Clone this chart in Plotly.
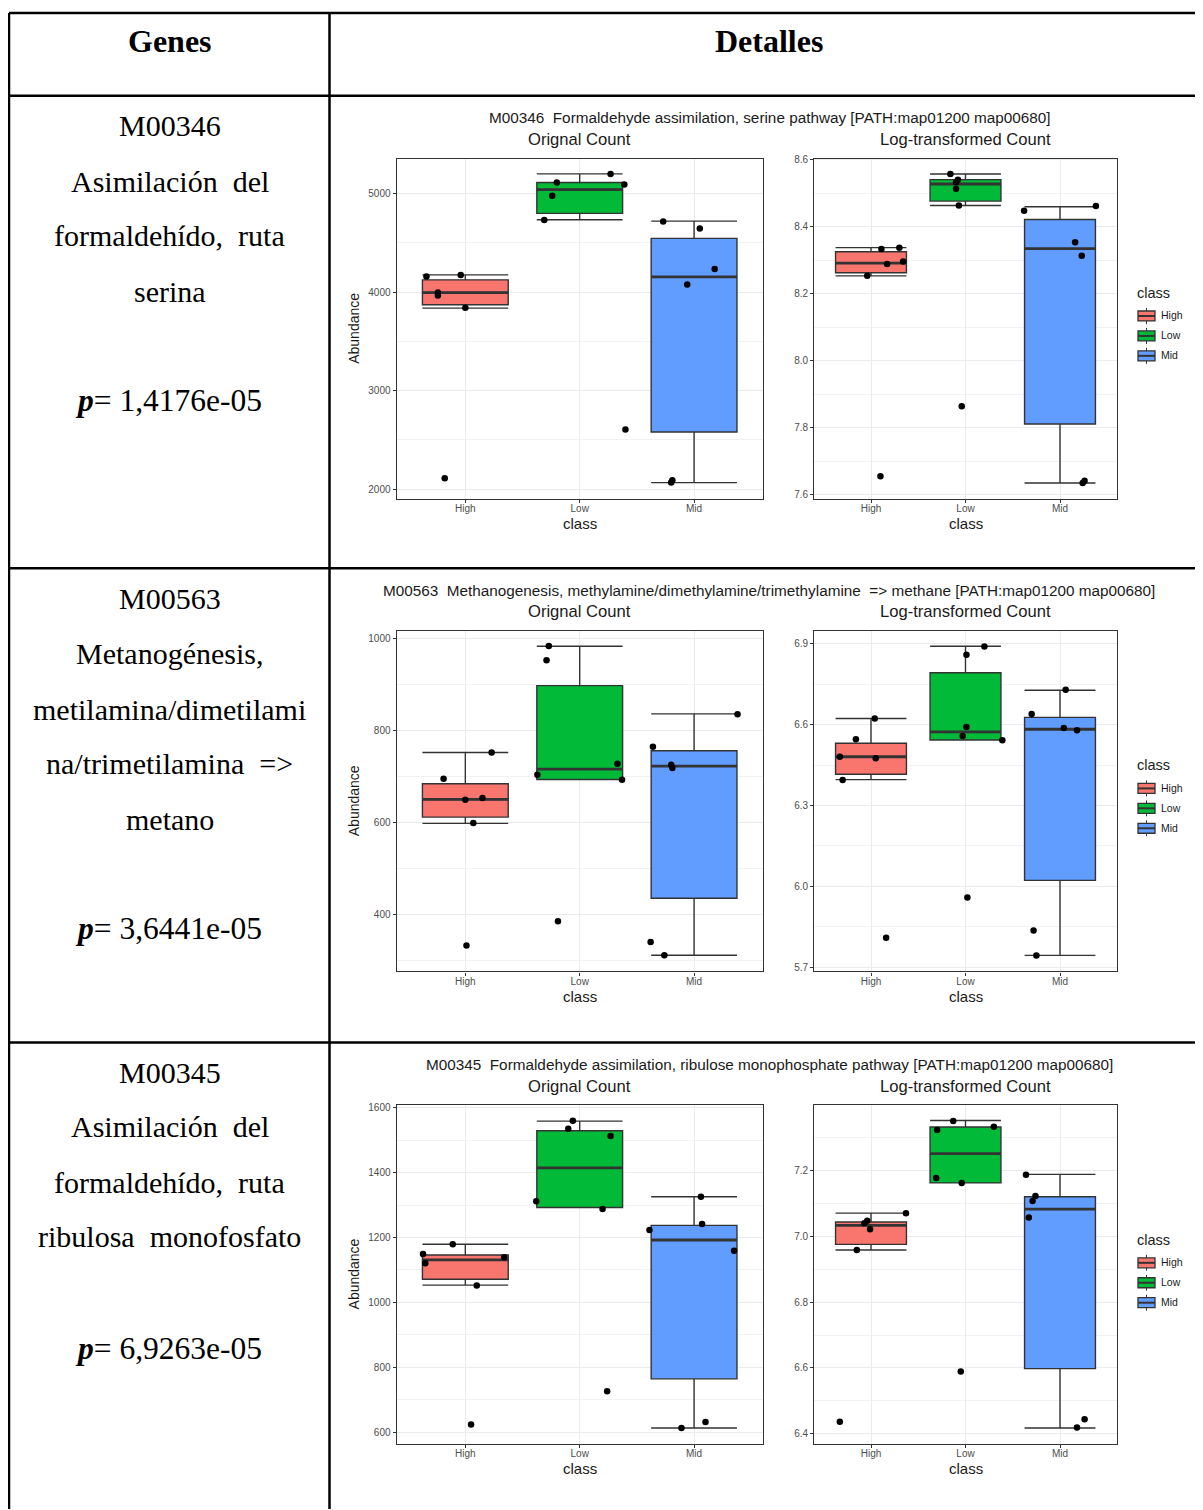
import plotly.graph_objects as go

W, H = 1203, 1510
OFF = 8                      # default page margin of the html body
FW, FH = W - OFF, H - OFF    # figure size

classes = ["High", "Low", "Mid"]
class_pos = [1, 2, 3]
fill_colors = ["#F8766D", "#00BA38", "#619CFF"]

# ---------------- M00346 : original counts ----------------
m00346_orig_q1 = [3871, 4798, 2580]
m00346_orig_med = [3995, 5040, 4154]
m00346_orig_q3 = [4124, 5111, 4545]
m00346_orig_lo = [3837, 4734, 2067]
m00346_orig_hi = [4174, 5199, 4720]
m00346_orig_pts = [[4157, 4174, 3995, 3965, 3840, 2111],
                   [4730, 5111, 4976, 5199, 5091, 2607],
                   [4717, 4646, 4235, 4076, 2091, 2067]]
m00346_orig_jit = [[-0.34, -0.04, -0.24, -0.24, 0.00, -0.18],
                   [-0.31, -0.20, -0.24, 0.27, 0.39, 0.40],
                   [-0.27, 0.05, 0.18, -0.06, -0.19, -0.20]]

# ---------------- M00346 : log counts ----------------
m00346_log_q1 = [8.262, 8.476, 7.811]
m00346_log_med = [8.291, 8.527, 8.334]
m00346_log_q3 = [8.325, 8.540, 8.421]
m00346_log_lo = [8.253, 8.463, 7.635]
m00346_log_hi = [8.337, 8.557, 8.459]
m00346_log_pts = [[8.333, 8.337, 8.288, 8.296, 8.253, 7.655],
                  [8.557, 8.540, 8.532, 8.513, 8.463, 7.864],
                  [8.447, 8.461, 8.353, 8.313, 7.642, 7.635]]
m00346_log_jit = [[0.11, 0.30, 0.17, 0.34, -0.04, 0.10],
                  [-0.16, -0.08, -0.10, -0.10, -0.07, -0.04],
                  [-0.38, 0.38, 0.16, 0.23, 0.26, 0.24]]

# ---------------- M00563 : original counts ----------------
m00563_orig_q1 = [611.8, 693.5, 435.4]
m00563_orig_med = [650.1, 715.9, 722.4]
m00563_orig_q3 = [684.1, 897.3, 755.7]
m00563_orig_lo = [598.1, 693.5, 311.8]
m00563_orig_hi = [752.0, 982.7, 835.9]
m00563_orig_pts = [[694.9, 752.0, 649.4, 653.0, 598.8, 332.8],
                   [983.4, 952.3, 703.6, 727.5, 692.8, 385.5],
                   [835.2, 764.3, 725.3, 718.1, 340.7, 311.8]]
m00563_orig_jit = [[-0.19, 0.23, 0.00, 0.15, 0.07, 0.01],
                   [-0.27, -0.29, -0.37, 0.33, 0.37, -0.19],
                   [0.38, -0.36, -0.20, -0.19, -0.38, -0.26]]

# ---------------- M00563 : log counts ----------------
m00563_log_q1 = [6.416, 6.543, 6.022]
m00563_log_med = [6.481, 6.573, 6.583]
m00563_log_q3 = [6.531, 6.793, 6.627]
m00563_log_lo = [6.396, 6.543, 5.744]
m00563_log_hi = [6.623, 6.891, 6.728]
m00563_log_pts = [[6.481, 6.546, 6.623, 6.475, 6.395, 5.809],
                  [6.890, 6.860, 6.591, 6.558, 6.542, 5.959],
                  [6.730, 6.640, 6.588, 6.579, 5.836, 5.743]]
m00563_log_jit = [[-0.33, -0.16, 0.04, 0.05, -0.30, 0.16],
                  [0.20, 0.01, 0.01, -0.03, 0.39, 0.02],
                  [0.06, -0.30, 0.04, 0.18, -0.28, -0.25]]

# ---------------- M00345 : original counts ----------------
m00345_orig_q1 = [1071.3, 1292.6, 764.0]
m00345_orig_med = [1130.7, 1414.5, 1192.2]
m00345_orig_q3 = [1146.1, 1529.3, 1237.3]
m00345_orig_lo = [1052.9, 1292.6, 612.3]
m00345_orig_hi = [1178.9, 1559.0, 1325.4]
m00345_orig_pts = [[1149.2, 1178.9, 1120.5, 1138.9, 1051.8, 623.5],
                   [1560.0, 1535.4, 1512.9, 1312.1, 1287.5, 726.0],
                   [1325.4, 1241.4, 1222.9, 1159.4, 630.7, 612.3]]
m00345_orig_jit = [[-0.37, -0.11, -0.35, 0.34, 0.10, 0.05],
                   [-0.06, -0.10, 0.27, -0.38, 0.20, 0.24],
                   [0.06, 0.07, -0.39, 0.35, 0.10, -0.11]]

# ---------------- M00345 : log counts ----------------
m00345_log_q1 = [6.976, 7.163, 6.598]
m00345_log_med = [7.034, 7.252, 7.083]
m00345_log_q3 = [7.044, 7.333, 7.121]
m00345_log_lo = [6.959, 7.163, 6.417]
m00345_log_hi = [7.071, 7.353, 7.189]
m00345_log_pts = [[7.071, 7.048, 7.040, 7.022, 6.959, 6.436],
                  [7.351, 7.324, 7.334, 7.178, 7.163, 6.589],
                  [7.188, 7.123, 7.108, 7.058, 6.444, 6.419]]
m00345_log_jit = [[0.37, -0.04, -0.07, -0.01, -0.15, -0.33],
                  [-0.13, -0.30, 0.30, -0.31, -0.04, -0.05],
                  [-0.36, -0.26, -0.29, -0.33, 0.26, 0.18]]

# ---------------- text ----------------
header_texts = ["Genes", "Detalles"]
plot_titles = [
    "M00346\u00a0 Formaldehyde assimilation, serine pathway [PATH:map01200 map00680]",
    "M00563\u00a0 Methanogenesis, methylamine/dimethylamine/trimethylamine\u00a0 => methane [PATH:map01200 map00680]",
    "M00345\u00a0 Formaldehyde assimilation, ribulose monophosphate pathway [PATH:map01200 map00680]",
]
sub_titles = ["Orignal Count", "Log-transformed Count"]
legend_title = "class"
gene_lines = [
    ["M00346", "Asimilación\u00a0 del", "formaldehído,\u00a0 ruta", "serina"],
    ["M00563", "Metanogénesis,", "metilamina/dimetilami", "na/trimetilamina\u00a0 =>", "metano"],
    ["M00345", "Asimilación\u00a0 del", "formaldehído,\u00a0 ruta", "ribulosa\u00a0 monofosfato"],
]
p_values = ["1,4176e-05", "3,6441e-05", "6,9263e-05"]

# ---------------- geometry (page pixels) ----------------
col_x = [(396.7, 762.7), (814.3, 1116.7)]
row_y = [(155.0, 496.7), (629.0, 970.7), (1105.0, 1444.3)]
row_top = [92, 566, 1042]
gene_line_y = [[125, 181, 235, 291], [599, 655, 711, 765, 821], [1075, 1129, 1185, 1240]]
p_line_y = [401, 931, 1352]
SERIF_SHIFT = -3   # glyph-centre vs text-box-centre correction
SANS_SHIFT = -2


def fx(p):
    return (p - OFF) / FW


def fy(p):
    return 1 - (p - OFF) / FH


panels = [
    dict(q1=m00346_orig_q1, med=m00346_orig_med, q3=m00346_orig_q3, lo=m00346_orig_lo, hi=m00346_orig_hi,
         pts=m00346_orig_pts, jit=m00346_orig_jit, yr=[1900, 5355], tick0=2000, dtick=1000, minor=500, fmt="d"),
    dict(q1=m00346_log_q1, med=m00346_log_med, q3=m00346_log_q3, lo=m00346_log_lo, hi=m00346_log_hi,
         pts=m00346_log_pts, jit=m00346_log_jit, yr=[7.587, 8.603], tick0=7.6, dtick=0.2, minor=0.1, fmt=".1f"),
    dict(q1=m00563_orig_q1, med=m00563_orig_med, q3=m00563_orig_q3, lo=m00563_orig_lo, hi=m00563_orig_hi,
         pts=m00563_orig_pts, jit=m00563_orig_jit, yr=[276.5, 1016], tick0=400, dtick=200, minor=100, fmt="d"),
    dict(q1=m00563_log_q1, med=m00563_log_med, q3=m00563_log_q3, lo=m00563_log_lo, hi=m00563_log_hi,
         pts=m00563_log_pts, jit=m00563_log_jit, yr=[5.684, 6.948], tick0=5.7, dtick=0.3, minor=0.15, fmt=".1f"),
    dict(q1=m00345_orig_q1, med=m00345_orig_med, q3=m00345_orig_q3, lo=m00345_orig_lo, hi=m00345_orig_hi,
         pts=m00345_orig_pts, jit=m00345_orig_jit, yr=[564.5, 1607.5], tick0=600, dtick=200, minor=100, fmt="d"),
    dict(q1=m00345_log_q1, med=m00345_log_med, q3=m00345_log_q3, lo=m00345_log_lo, hi=m00345_log_hi,
         pts=m00345_log_pts, jit=m00345_log_jit, yr=[6.370, 7.399], tick0=6.4, dtick=0.2, minor=0.1, fmt=".1f"),
]

SANS = "Liberation Sans, Arial, sans-serif"
SERIF = "Liberation Serif, Times New Roman, serif"
BOX_W = 0.75
DARK = "#333333"

fig = go.Figure()
layout_axes = {}
annotations = []
shapes = []

for k, pan in enumerate(panels):
    r, c = divmod(k, 2)
    idx = k + 1
    xa = "x" if idx == 1 else f"x{idx}"
    ya = "y" if idx == 1 else f"y{idx}"
    for i, cls in enumerate(classes):
        fig.add_trace(go.Box(
            x=[class_pos[i]], q1=[pan["q1"][i]], median=[pan["med"][i]], q3=[pan["q3"][i]],
            lowerfence=[pan["lo"][i]], upperfence=[pan["hi"][i]],
            width=BOX_W, whiskerwidth=1, boxpoints=False,
            fillcolor=fill_colors[i], line=dict(color=DARK, width=1.4),
            name=cls, xaxis=xa, yaxis=ya, showlegend=False, hoverinfo="skip"))
        fig.add_trace(go.Scatter(
            x=[class_pos[i] - BOX_W / 2, class_pos[i] + BOX_W / 2], y=[pan["med"][i]] * 2,
            mode="lines", line=dict(color=DARK, width=2.8),
            xaxis=xa, yaxis=ya, showlegend=False, hoverinfo="skip"))
    for i, cls in enumerate(classes):
        fig.add_trace(go.Scatter(
            x=[class_pos[i] + d for d in pan["jit"][i]], y=pan["pts"][i],
            mode="markers", marker=dict(color="black", size=6.5), name=cls,
            xaxis=xa, yaxis=ya, showlegend=False, hoverinfo="skip"))

    x0, x1 = col_x[c]
    y0, y1 = row_y[r]
    axis_common = dict(showline=True, mirror=True, linecolor=DARK, linewidth=1.3,
                       ticks="outside", ticklen=3, tickcolor=DARK, tickwidth=1,
                       tickfont=dict(family=SANS, size=10, color="#4D4D4D"),
                       showgrid=True, gridcolor="#EBEBEB", gridwidth=1, zeroline=False)
    layout_axes["xaxis" if idx == 1 else f"xaxis{idx}"] = dict(
        domain=[fx(x0), fx(x1)], anchor=ya, range=[0.4, 3.6], ticklabelstandoff=-3,
        tickmode="array", tickvals=class_pos, ticktext=classes, **axis_common)
    layout_axes["yaxis" if idx == 1 else f"yaxis{idx}"] = dict(
        domain=[fy(y1), fy(y0)], anchor=xa, range=pan["yr"],
        tick0=pan["tick0"], dtick=pan["dtick"], tickformat=pan["fmt"],
        minor=dict(tick0=pan["tick0"], dtick=pan["minor"], showgrid=True, gridcolor="#F2F2F2", gridwidth=1),
        **axis_common)

    annotations.append(dict(text="class", x=fx((x0 + x1) / 2), y=fy(y1 + 25), xref="paper",
                            yref="paper", showarrow=False, font=dict(family=SANS, size=15, color="#1A1A1A"),
                            xanchor="center", yanchor="middle"))
    annotations.append(dict(text=sub_titles[c], x=fx((x0 + x1) / 2), y=fy(y0 - 17 + SANS_SHIFT), xref="paper",
                            yref="paper", showarrow=False, font=dict(family=SANS, size=16.6, color="#1A1A1A"),
                            xanchor="center", yanchor="middle"))
    if c == 0:
        annotations.append(dict(text="Abundance", x=fx(354), y=fy((y0 + y1) / 2), xref="paper", yref="paper",
                                showarrow=False, textangle=-90, font=dict(family=SANS, size=14, color="#1A1A1A"),
                                xanchor="center", yanchor="middle"))

# main titles + manual ggplot-style legends
for r in range(3):
    y0 = row_y[r][0]
    annotations.append(dict(text=plot_titles[r], x=fx(769), y=fy(y0 - 39 + SANS_SHIFT), xref="paper",
                            yref="paper", showarrow=False, font=dict(family=SANS, size=15.3, color="#1A1A1A"),
                            xanchor="center", yanchor="middle"))
    annotations.append(dict(text=legend_title, x=fx(1135), y=fy(y0 + 137 + SANS_SHIFT), xref="paper",
                            yref="paper", showarrow=False, font=dict(family=SANS, size=14.5, color="#1A1A1A"),
                            xanchor="left", yanchor="middle"))
    for i, cls in enumerate(classes):
        cy = y0 + 158 + 20 * i
        kx0, kx1, kxm = 1138, 1155, 1146.5
        shapes.append(dict(type="line", xref="paper", yref="paper", x0=fx(kxm), x1=fx(kxm),
                           y0=fy(cy - 8), y1=fy(cy + 8), line=dict(color=DARK, width=1)))
        shapes.append(dict(type="rect", xref="paper", yref="paper", x0=fx(kx0), x1=fx(kx1),
                           y0=fy(cy - 5), y1=fy(cy + 5), fillcolor=fill_colors[i],
                           line=dict(color=DARK, width=1.3)))
        shapes.append(dict(type="line", xref="paper", yref="paper", x0=fx(kx0), x1=fx(kx1),
                           y0=fy(cy), y1=fy(cy), line=dict(color=DARK, width=2)))
        annotations.append(dict(text=cls, x=fx(1159), y=fy(cy - 0.5), xref="paper", yref="paper",
                                showarrow=False, font=dict(family=SANS, size=10.5, color="#1A1A1A"),
                                xanchor="left", yanchor="middle"))

# table text
for txt, tx in zip(header_texts, [170, 769]):
    annotations.append(dict(text="<b>" + txt + "</b>", x=fx(tx), y=fy(40 + SERIF_SHIFT), xref="paper",
                            yref="paper", showarrow=False, font=dict(family=SERIF, size=32, color="black"),
                            xanchor="center", yanchor="middle"))
for r in range(3):
    for line, ly in zip(gene_lines[r], gene_line_y[r]):
        annotations.append(dict(text=line, x=fx(170), y=fy(ly + SERIF_SHIFT), xref="paper", yref="paper",
                                showarrow=False, font=dict(family=SERIF, size=30, color="black"),
                                xanchor="center", yanchor="middle"))
    annotations.append(dict(text="<b><i>p</i></b>= " + p_values[r], x=fx(168), y=fy(p_line_y[r] + SERIF_SHIFT),
                            xref="paper", yref="paper", showarrow=False,
                            font=dict(family=SERIF, size=31.5, color="black"),
                            xanchor="center", yanchor="middle"))

# table rules
line_style = dict(color="black", width=2.5)
shapes.append(dict(type="line", xref="paper", yref="paper", x0=fx(9), x1=1, y0=fy(9), y1=fy(9), line=line_style))
shapes.append(dict(type="line", xref="paper", yref="paper", x0=fx(9), x1=fx(9), y0=fy(9), y1=0, line=line_style))
shapes.append(dict(type="line", xref="paper", yref="paper", x0=fx(329.5), x1=fx(329.5), y0=fy(9), y1=0,
                   line=line_style))
for ty in row_top:
    shapes.append(dict(type="line", xref="paper", yref="paper", x0=fx(9), x1=1, y0=fy(ty), y1=fy(ty),
                       line=line_style))

fig.update_layout(
    width=FW, height=FH, margin=dict(l=0, r=0, t=0, b=0),
    paper_bgcolor="white", plot_bgcolor="white", showlegend=False,
    shapes=shapes, annotations=annotations, boxmode="overlay",
    **layout_axes,
)

fig.write_html("out.html")
